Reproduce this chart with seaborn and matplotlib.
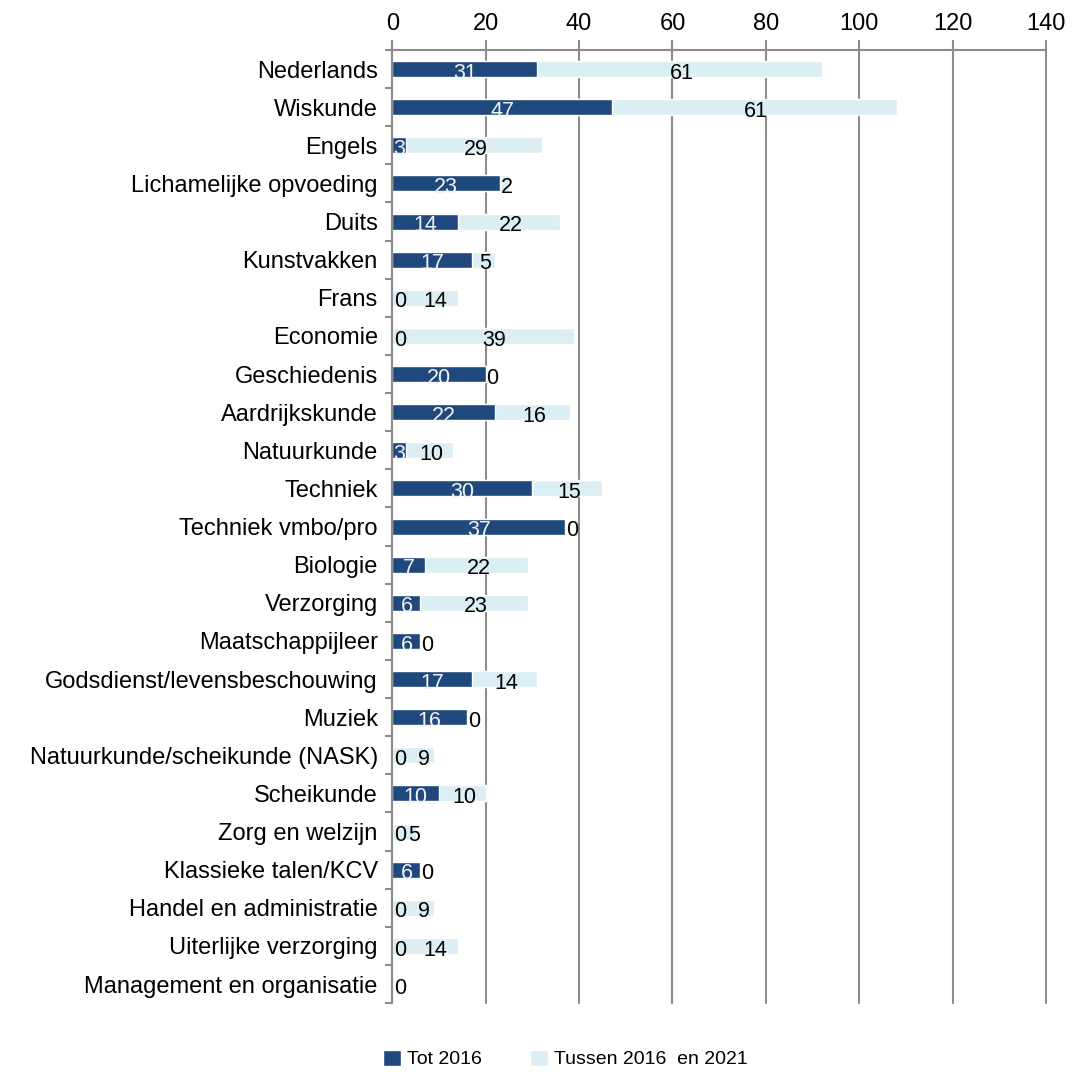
import matplotlib
matplotlib.use("Agg")
import matplotlib.pyplot as plt
import matplotlib.ticker as mticker
from matplotlib.patches import Patch
import pandas as pd
import seaborn as sns

## Data
vakken = ["Nederlands", "Wiskunde", "Engels", "Lichamelijke opvoeding", "Duits",
          "Kunstvakken", "Frans", "Economie", "Geschiedenis", "Aardrijkskunde",
          "Natuurkunde", "Techniek", "Techniek vmbo/pro", "Biologie", "Verzorging",
          "Maatschappijleer", "Godsdienst/levensbeschouwing", "Muziek",
          "Natuurkunde/scheikunde (NASK)", "Scheikunde", "Zorg en welzijn",
          "Klassieke talen/KCV", "Handel en administratie", "Uiterlijke verzorging",
          "Management en organisatie"]
tot_2016 = [31, 47, 3, 23, 14, 17, 0, 0, 20, 22, 3, 30, 37, 7, 6, 6, 17, 16, 0, 10, 0, 6, 0, 0, 0]
tussen_2016_2021 = [61, 61, 29, 2, 22, 5, 14, 39, 0, 16, 10, 15, 0, 22, 23, 0, 14, 0, 9, 10, 5, 0, 9, 14, 0]
series_names = ["Tot 2016", "Tussen 2016  en 2021"]

df = pd.DataFrame({"vak": vakken, "tot": tot_2016, "tussen": tussen_2016_2021})
df["totaal"] = df["tot"] + df["tussen"]

DARK = "#1F497D"
LIGHT = "#DAEEF3"
GRID = "#8C8C8C"

sns.set_style("white")
plt.rcParams["font.family"] = ["Liberation Sans", "DejaVu Sans"]
plt.rcParams["text.color"] = "black"
plt.rcParams["xtick.labelcolor"] = "black"
plt.rcParams["ytick.labelcolor"] = "black"

fig = plt.figure(figsize=(10.75, 10.74), dpi=100)
ax = fig.add_axes([0.365, 0.066, 0.608, 0.8875])

# stacked: light bar is the total, dark bar drawn over it
sns.barplot(data=df, x="totaal", y="vak", color=LIGHT, width=0.42, ax=ax,
            saturation=1, zorder=3)
sns.barplot(data=df, x="tot", y="vak", color=DARK, width=0.42, ax=ax,
            saturation=1, zorder=4)

# value labels
fs = 15.5
for i, row in df.iterrows():
    d, l = row["tot"], row["tussen"]
    if d > 0:
        ax.annotate(str(d), (d / 2, i), xytext=(0, -3), textcoords="offset points",
                    ha="center", va="center", fontsize=fs, color="#F2F2F2", zorder=5)
    else:
        ax.annotate("0", (0, i), xytext=(1.5, -3), textcoords="offset points",
                    ha="left", va="center", fontsize=fs, color="black", zorder=5)
    if l > 0:
        shift = 7.5 if d == 0 else 1.5
        ax.annotate(str(l), (d + l / 2, i), xytext=(shift, -3), textcoords="offset points",
                    ha="center", va="center", fontsize=fs, color="black", zorder=5)
    elif d > 0:
        ax.annotate("0", (d, i), xytext=(0.5, -3), textcoords="offset points",
                    ha="left", va="center", fontsize=fs, color="black", zorder=5)

## Axes styling
ax.set_xlim(0, 140)
ax.set_ylim(len(vakken) - 0.5, -0.5)
ax.xaxis.set_major_locator(mticker.MultipleLocator(20))
ax.xaxis.tick_top()
ax.xaxis.set_label_position("top")
ax.set_xlabel("")
ax.set_ylabel("")
ax.grid(axis="x", color=GRID, linewidth=1.5, zorder=1)
for gl in ax.get_xgridlines():
    gl.set_clip_on(False)
ax.set_axisbelow(True)
for side in ["right", "bottom"]:
    ax.spines[side].set_visible(False)
for side in ["top", "left"]:
    ax.spines[side].set_color(GRID)
    ax.spines[side].set_linewidth(1.5)
    ax.spines[side].set_zorder(6)

ax.tick_params(axis="x", which="major", top=True, direction="out", length=7,
               width=1.5, color=GRID, labelsize=17, pad=4)
ax.tick_params(axis="y", which="major", left=False, labelsize=17, pad=7)
ax.yaxis.set_minor_locator(mticker.FixedLocator([k - 0.5 for k in range(len(vakken) + 1)]))
ax.tick_params(axis="y", which="minor", left=True, direction="out", length=5,
               width=1.5, color=GRID)

# legend at the bottom
handles = [Patch(facecolor=DARK), Patch(facecolor=LIGHT)]
fig.legend(handles, series_names, loc="center", bbox_to_anchor=(0.526, 0.014), ncol=2,
           frameon=False, fontsize=14, handlelength=0.9, handleheight=0.9,
           handletextpad=0.3, columnspacing=2.5)

fig.savefig("out.png", dpi=100)
